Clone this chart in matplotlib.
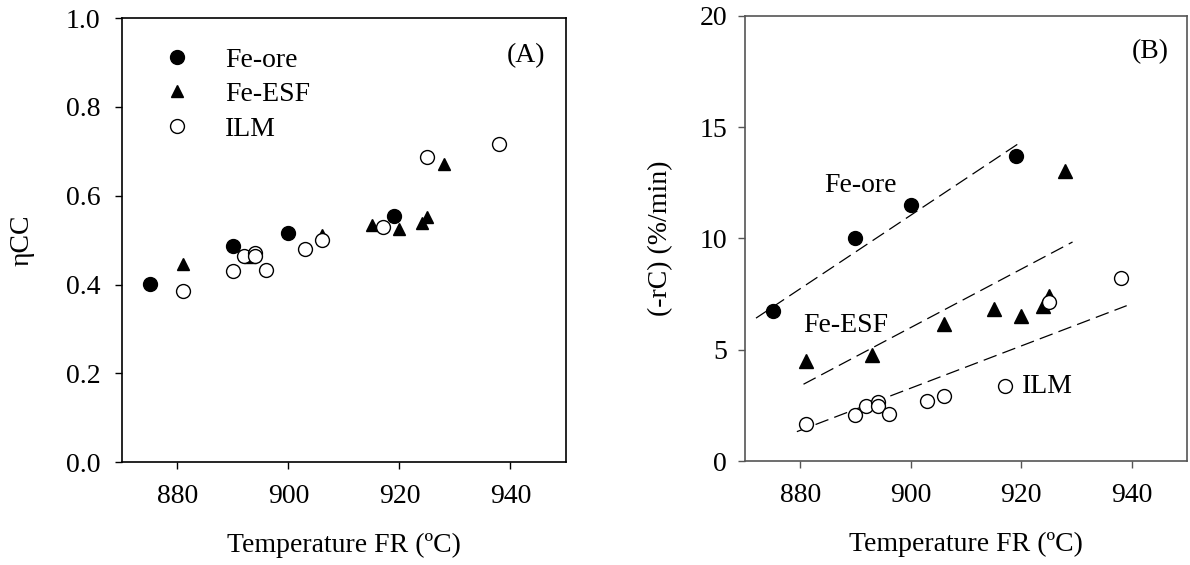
import matplotlib.pyplot as plt

plt.rcParams["font.family"] = ["Liberation Serif", "DejaVu Serif"]

# ── data ──
# (A) carbon conversion efficiency
a_ore_t = [875, 890, 900, 919]
a_ore_eta = [0.401, 0.486, 0.517, 0.555]
a_esf_t = [881, 893, 906, 915, 920, 924, 925, 928]
a_esf_eta = [0.447, 0.461, 0.511, 0.534, 0.524, 0.539, 0.551, 0.671]
a_ilm_t = [881, 890, 892, 894, 894, 896, 903, 906, 917, 925, 938]
a_ilm_eta = [0.385, 0.431, 0.464, 0.472, 0.465, 0.432, 0.481, 0.500, 0.529, 0.687, 0.716]

# (B) carbon rate
b_ore_t = [875, 890, 900, 919]
b_ore_r = [6.72, 10.02, 11.49, 13.70]
b_esf_t = [881, 893, 906, 915, 920, 924, 925, 928]
b_esf_r = [4.50, 4.75, 6.15, 6.85, 6.50, 6.98, 7.42, 13.05]
b_ilm_t = [881, 890, 892, 894, 894, 896, 903, 906, 917, 925, 938]
b_ilm_r = [1.67, 2.07, 2.48, 2.63, 2.48, 2.10, 2.70, 2.94, 3.39, 7.14, 8.22]

# dashed trend lines (end points)
fit_ore_t, fit_ore_r = [872, 920], [6.42, 14.34]
fit_esf_t, fit_esf_r = [880.6, 929.3], [3.45, 9.84]
fit_ilm_t, fit_ilm_r = [879.4, 939.1], [1.32, 6.98]

FS = 20
fig = plt.figure(figsize=(11.9, 5.65), dpi=100)
axA = fig.add_axes([0.1025, 0.182, 0.373, 0.786])
axB = fig.add_axes([0.626, 0.184, 0.3714, 0.788])


def style(ax, spine_color, ypad):
    ax.set_xlim(870, 950)
    ax.set_xticks([880, 900, 920, 940])
    for s in ax.spines.values():
        s.set_color(spine_color)
        s.set_linewidth(1.2)
    ax.tick_params(direction="out", length=5, width=1, labelsize=FS,
                   top=False, right=False, color=spine_color)
    ax.tick_params(axis="x", pad=11)
    ax.tick_params(axis="y", pad=ypad)
    ax.set_xlabel("Temperature FR (ºC)", fontsize=FS, labelpad=17)


ms_o = dict(ls="none", marker="o", markersize=10, mec="black", mew=1)

# ── panel A ──
axA.plot(a_ore_t, a_ore_eta, mfc="black", label="Fe-ore", **ms_o)
axA.plot(a_esf_t, a_esf_eta, ls="none", marker="^", markersize=9,
         color="black", label="Fe-ESF")
axA.plot(a_ilm_t, a_ilm_eta, mfc="white", label="ILM", **ms_o)
axA.set_ylim(0, 1.0)
axA.set_yticks([0.0, 0.2, 0.4, 0.6, 0.8, 1.0])
axA.set_yticklabels(["0.0", "0.2", "0.4", "0.6", "0.8", "1.0"])
style(axA, "black", 10.5)
axA.set_ylabel("ηCC", fontsize=FS)
axA.yaxis.set_label_coords(-0.198, 0.5)
axA.text(942.8, 0.915, "(A)", fontsize=FS, ha="center", va="center")
axA.legend(loc="upper left", bbox_to_anchor=(0.092, 0.934), frameon=False,
           fontsize=FS, handlelength=1.0, handletextpad=1.25,
           labelspacing=0.32, borderpad=0, borderaxespad=0)

# ── panel B ──
dash = dict(color="black", lw=0.9, dashes=(11, 5))
axB.plot(fit_ore_t, fit_ore_r, **dash)
axB.plot(fit_esf_t, fit_esf_r, **dash)
axB.plot(fit_ilm_t, fit_ilm_r, **dash)
axB.plot(b_ore_t, b_ore_r, mfc="black", **ms_o)
axB.plot(b_esf_t, b_esf_r, ls="none", marker="^", markersize=10, color="black")
axB.plot(b_ilm_t, b_ilm_r, mfc="white", **ms_o)
axB.set_ylim(0, 20)
axB.set_yticks([0, 5, 10, 15, 20])
style(axB, "#555555", 8)
axB.set_ylabel("(-rC) (%/min)", fontsize=FS)
axB.yaxis.set_label_coords(-0.163, 0.5)
axB.text(890.9, 12.4, "Fe-ore", fontsize=FS, ha="center", va="center")
axB.text(888.3, 6.1, "Fe-ESF", fontsize=FS, ha="center", va="center")
axB.text(920.2, 3.35, "ILM", fontsize=FS, ha="left", va="center")
axB.text(943.3, 18.4, "(B)", fontsize=FS, ha="center", va="center")

fig.savefig("out.png", dpi=100)
